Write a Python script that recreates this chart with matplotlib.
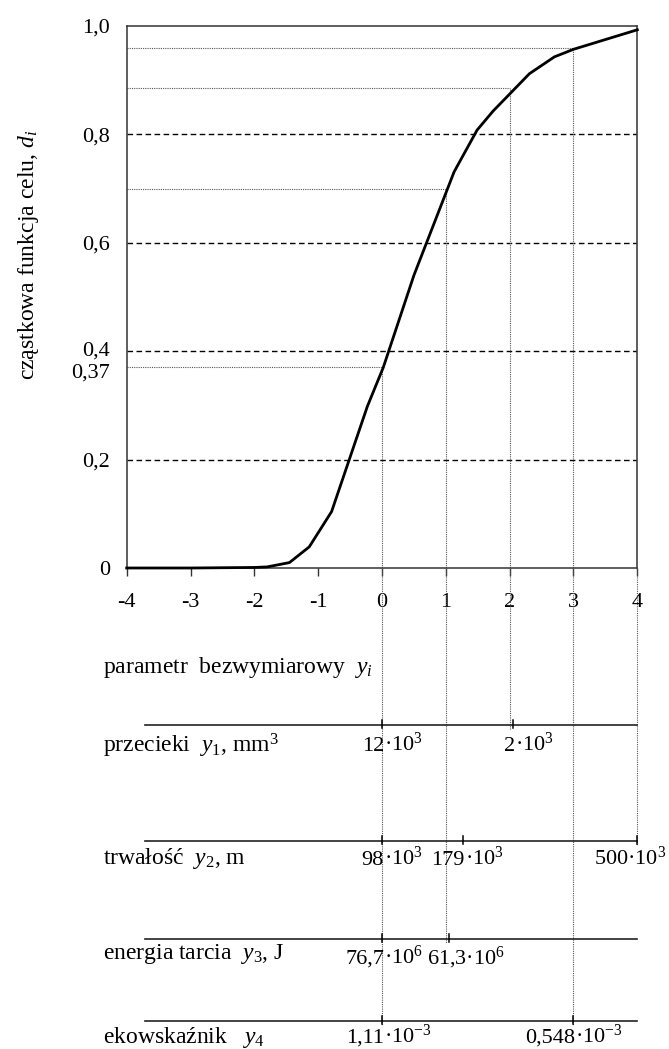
import matplotlib
matplotlib.use("Agg")
import matplotlib.pyplot as plt
from matplotlib.transforms import offset_copy

plt.rcParams['font.family'] = ['Liberation Serif', 'DejaVu Serif']
plt.rcParams['mathtext.fontset'] = 'custom'
plt.rcParams['mathtext.rm'] = 'Liberation Serif'
plt.rcParams['mathtext.it'] = 'Liberation Serif:italic'
plt.rcParams['mathtext.bf'] = 'Liberation Serif:bold'

# ---- data ----
y_param = [-4, -3, -2, -1.8, -1.45, -1.14, -0.79, -0.23, 0.02, 0.5, 1.13, 1.49, 1.74, 2.31, 2.70, 3.0, 4.0]
d_value = [0, 0, 0.001, 0.002, 0.010, 0.039, 0.104, 0.298, 0.37, 0.54, 0.731, 0.808, 0.843, 0.912, 0.943, 0.957, 0.993]

x_ticks = [-4, -3, -2, -1, 0, 1, 2, 3, 4]
x_ticklabels = ["-4", "-3", "-2", "-1", "0", "1", "2", "3", "4"]
y_ticks = [0, 0.2, 0.37, 0.4, 0.6, 0.8, 1.0]
y_ticklabels = ["0", "0,2", "0,37", "0,4", "0,6", "0,8", "1,0"]
dashed_levels = [0.2, 0.4, 0.6, 0.8]

# reference points (dimensionless parameter -> desirability)
ref_y = [0, 1, 2, 3]
ref_d = [0.37, 0.70, 0.885, 0.959]

# scales of the real parameters
row_labels = ["przecieki  $y_{\\mathit{1}}$, mm$^3$",
              "trwałość  $y_{\\mathit{2}}$, m",
              "energia tarcia  $y_{\\mathit{3}}$, J",
              "ekowskaźnik   $y_{\\mathit{4}}$"]
y1_pos, y1_mant, y1_exp = [0, 2.05], ["12", "2"], "3"
y2_pos, y2_mant, y2_exp = [0, 1.27, 4], ["98", "179", "500"], "3"
y3_pos, y3_mant, y3_exp = [0, 1.05], ["76,7", "61,3"], "6"
y4_pos, y4_mant, y4_exp = [0, 3], ["1,11", "0,548"], "{-3}"

# vertical guide lines: position and the scale row where each ends (index in rows)
guide_x = [0, 1, 2, 3, 4]
guide_top = [0.37, 0.70, 0.885, 0.959, 0.0]
guide_end_row = [3, 2, 0, 3, 1]

# ---- layout (pixels of the 669x1049 figure) ----
FW, FH = 669, 1049
left_px, right_px, top_px, bot_px = 126.7, 637.3, 26, 568
row_line_px = [725, 841, 939, 1021]
row_base_px = [753, 864, 959, 1043]
tick_base_px = [751, 865, 964, 1043]
param_base_px = 673
label_x = -4.37
line_x0 = -3.72
# label placement: None -> middle dot at the tick, (ha, x) -> anchored label
label_anchor = [[None, None], [None, None, ('right', 4.46)], [None, ('left', 0.70)], [None, None]]

fig = plt.figure(figsize=(FW / 100, FH / 100), dpi=100)
ax = fig.add_axes([left_px / FW, 1 - bot_px / FH, (right_px - left_px) / FW, (bot_px - top_px) / FH])
ax2 = fig.add_axes([left_px / FW, 0, (right_px - left_px) / FW, 1 - bot_px / FH])

ax.set_xlim(-4, 4)
ax.set_ylim(0, 1.0)
ax2.set_xlim(-4, 4)
ax2.set_ylim(FH, bot_px)
ax2.axis('off')

dot_style = dict(color='#555555', lw=0.8, linestyle=(0, (1, 1)))

# dashed horizontal grid
for lv in dashed_levels:
    ax.axhline(lv, color='black', lw=1.0, linestyle=(0, (4, 2.5)), zorder=1)

# dotted reference lines
for xv, dv in zip(ref_y, ref_d):
    ax.plot([-4, xv], [dv, dv], **dot_style, zorder=1)
for xv, top, ri in zip(guide_x, guide_top, guide_end_row):
    if top > 0:
        ax.plot([xv, xv], [0, top], **dot_style, zorder=1)
    ax2.plot([xv, xv], [bot_px, row_line_px[ri] + 4], **dot_style, clip_on=False)

# curve
ax.plot(y_param, d_value, color='black', lw=2.0, zorder=3, clip_on=False)

# axes styling
for s in ax.spines.values():
    s.set_color('#333333')
    s.set_linewidth(1.1)
ax.set_xticks(x_ticks)
ax.set_xticklabels(x_ticklabels, fontsize=16)
ax.set_yticks(y_ticks)
ax.set_yticklabels(y_ticklabels, fontsize=16)
ax.tick_params(axis='x', direction='out', length=6, width=1, color='#333333', pad=12)
ax.tick_params(axis='y', length=0, pad=12)
for lbl in ax.get_yticklabels():
    if lbl.get_text() == "0,4":
        lbl.set_transform(offset_copy(lbl.get_transform(), fig=fig, x=0, y=3, units='dots'))
    if lbl.get_text() == "0,37":
        lbl.set_transform(offset_copy(lbl.get_transform(), fig=fig, x=0, y=-3, units='dots'))
ax.set_ylabel("cząstkowa funkcja celu, $d_i$", fontsize=17)
ax.yaxis.set_label_coords(-0.168, 0.577)

# lower scales
ax2.text(label_x, param_base_px, "parametr  bezwymiarowy  $y_i$", fontsize=17,
         ha='left', va='baseline')

scales = [(y1_pos, y1_mant, y1_exp), (y2_pos, y2_mant, y2_exp),
          (y3_pos, y3_mant, y3_exp), (y4_pos, y4_mant, y4_exp)]
for i, (pos, mant, ex) in enumerate(scales):
    ly = row_line_px[i]
    ax2.plot([line_x0, 4], [ly, ly], color='#222222', lw=1.2, clip_on=False)
    ax2.text(label_x, row_base_px[i], row_labels[i], fontsize=17, ha='left', va='baseline')
    for p, m, anc in zip(pos, mant, label_anchor[i]):
        ax2.plot([p, p], [ly - 5, ly + 3], color='black', lw=1.1, clip_on=False)
        if anc is None:
            ax2.text(p + 0.03, tick_base_px[i], m, fontsize=16, ha='right', va='baseline')
            ax2.text(p + 0.03, tick_base_px[i], "·10$^{%s}$" % ex, fontsize=16, ha='left',
                     va='baseline', clip_on=False)
        else:
            ax2.text(anc[1], tick_base_px[i], m + "·10$^{%s}$" % ex, fontsize=16,
                     ha=anc[0], va='baseline', clip_on=False)

fig.savefig("out.png", dpi=100)
